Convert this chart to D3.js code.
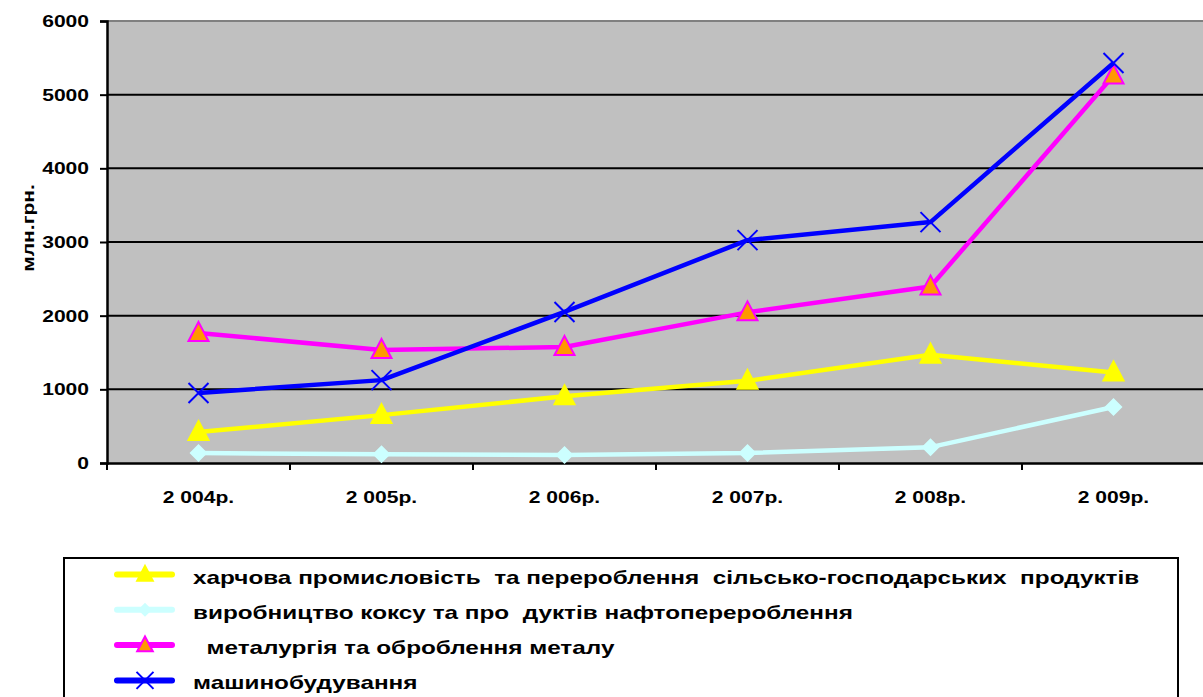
<!DOCTYPE html>
<html>
<head>
<meta charset="utf-8">
<script src="https://cdn.jsdelivr.net/npm/d3@7"></script>
<style>
  body { margin: 0; background: #fff; overflow: hidden; }
  svg text { font-family: "Liberation Sans", Arial, sans-serif; font-weight: bold; fill: #000; }
</style>
</head>
<body>
<div id="chart"></div>
<script>
// categories along the x axis
var years = ["2 004р.", "2 005р.", "2 006р.", "2 007р.", "2 008р.", "2 009р."];
var yTicks = [0, 1000, 2000, 3000, 4000, 5000, 6000];

// series values, млн.грн.
var food  = [420, 650, 905, 1115, 1470, 1230];
var coke  = [135, 120, 110, 135, 215, 760];
var metal = [1765, 1535, 1575, 2045, 2395, 5260];
var mach  = [950, 1125, 2050, 3025, 3270, 5430];

var seriesNames = [
    "харчова промисловість  та перероблення  сільсько-господарських  продуктів",
    "виробництво коксу та про  дуктів нафтоперероблення",
    "  металургія та оброблення металу",
    "машинобудування"
];

var W = 1203, H = 697;
var margin = {top: 21, left: 107};
var plotW = 1098, plotH = 442;
var stretch = 1.24;   // text in the original is drawn wide

var svg = d3.select("#chart").append("svg")
    .attr("width", W)
    .attr("height", H);

var x = d3.scaleBand().domain(years).range([0, plotW]);
var y = d3.scaleLinear().domain([0, 6000]).range([plotH, 0]);

var g = svg.append("g")
    .attr("transform", "translate(" + margin.left + "," + margin.top + ")");

// plot background
g.append("rect")
    .attr("width", plotW).attr("height", plotH)
    .attr("fill", "#c0c0c0");

// top border
g.append("line")
    .attr("x1", 0).attr("x2", plotW)
    .attr("y1", 0).attr("y2", 0)
    .attr("stroke", "#808080").attr("stroke-width", 2);

// gridlines
g.selectAll(".grid")
    .data(yTicks.filter(function(d){ return d > 0 && d < 6000; }))
    .enter().append("line")
    .attr("x1", 0).attr("x2", plotW)
    .attr("y1", function(d){ return y(d); })
    .attr("y2", function(d){ return y(d); })
    .attr("stroke", "#000").attr("stroke-width", 2);

// y axis
var yAxis = g.append("g")
    .call(d3.axisLeft(y).tickValues(yTicks).tickSize(7).tickFormat(d3.format("d")));
yAxis.select(".domain").attr("stroke-width", 2.5);
yAxis.selectAll(".tick line").attr("stroke-width", 2);
yAxis.selectAll("text")
    .style("font-size", "17px")
    .attr("x", -18 / stretch)
    .attr("transform", "scale(" + stretch + ",1)");

// x axis, ticks on band edges
var xAxis = g.append("g")
    .attr("transform", "translate(0," + plotH + ")")
    .call(d3.axisBottom(x).tickSize(0));
xAxis.select(".domain").attr("stroke-width", 2.5);
xAxis.selectAll("text")
    .style("font-size", "17px")
    .attr("y", 40).attr("dy", 0)
    .attr("transform", "scale(" + stretch + ",1)");
g.append("g").selectAll("line")
    .data(d3.range(years.length + 1))
    .enter().append("line")
    .attr("x1", function(i){ return i * x.step(); })
    .attr("x2", function(i){ return i * x.step(); })
    .attr("y1", plotH).attr("y2", plotH + 7)
    .attr("stroke", "#000").attr("stroke-width", 2);

// y axis title
svg.append("text")
    .attr("transform", "translate(34,228) rotate(-90) scale(" + stretch + ",1)")
    .attr("text-anchor", "middle")
    .style("font-size", "17px")
    .text("млн.грн.");

var series = [
    {name: seriesNames[0], values: food,  color: "#ffff00", marker: "triangle", fill: "#ffff00", stroke: "#ffff00"},
    {name: seriesNames[1], values: coke,  color: "#ccffff", marker: "diamond",  fill: "#ccffff", stroke: "#ccffff"},
    {name: seriesNames[2], values: metal, color: "#ff00ff", marker: "triangle", fill: "#ff9900", stroke: "#ff00ff"},
    {name: seriesNames[3], values: mach,  color: "#0000ff", marker: "x",        fill: "none",    stroke: "#0000ff"}
];

function cx(i){ return x(years[i]) + x.bandwidth() / 2; }

function drawMarker(sel, s, px, py, k) {
    if (s.marker === "triangle") {
        sel.append("path")
            .attr("d", "M" + px + "," + (py - 11 * k) + "L" + (px + 10 * k) + "," + (py + 8 * k) + "L" + (px - 10 * k) + "," + (py + 8 * k) + "Z")
            .attr("fill", s.fill).attr("stroke", s.stroke).attr("stroke-width", 2);
    } else if (s.marker === "diamond") {
        sel.append("path")
            .attr("d", "M" + px + "," + (py - 9 * k) + "L" + (px + 9 * k) + "," + py + "L" + px + "," + (py + 9 * k) + "L" + (px - 9 * k) + "," + py + "Z")
            .attr("fill", s.fill);
    } else {
        var r = 10 * k;
        sel.append("path")
            .attr("d", "M" + (px - r) + "," + (py - r) + "L" + (px + r) + "," + (py + r) +
                       "M" + (px + r) + "," + (py - r) + "L" + (px - r) + "," + (py + r))
            .attr("stroke", s.stroke).attr("stroke-width", 2).attr("fill", "none");
    }
}

var line = d3.line()
    .x(function(d, i){ return cx(i); })
    .y(function(d){ return y(d); });

series.forEach(function(s){
    g.append("path")
        .datum(s.values)
        .attr("d", line)
        .attr("fill", "none")
        .attr("stroke", s.color)
        .attr("stroke-width", 4.5)
        .attr("stroke-linejoin", "round");
    var mg = g.append("g");
    s.values.forEach(function(v, i){
        drawMarker(mg, s, cx(i), y(v), 1);
    });
});

// legend
var lg = svg.append("g");
lg.append("rect")
    .attr("x", 64).attr("y", 558)
    .attr("width", 1114).attr("height", 160)
    .attr("fill", "#fff").attr("stroke", "#000").attr("stroke-width", 2);

series.forEach(function(s, i){
    var ly = 574.5 + i * 35.3;
    lg.append("line")
        .attr("x1", 117).attr("x2", 172)
        .attr("y1", ly).attr("y2", ly)
        .attr("stroke", s.color).attr("stroke-width", 6)
        .attr("stroke-linecap", "round");
    drawMarker(lg, s, 145, ly, s.marker === "x" ? 0.85 : 0.78);
    lg.append("text")
        .attr("transform", "translate(193," + (ly + 9) + ") scale(1.28,1)")
        .attr("xml:space", "preserve")
        .style("white-space", "pre")
        .style("font-size", "19px")
        .text(s.name);
});
</script>
</body>
</html>
